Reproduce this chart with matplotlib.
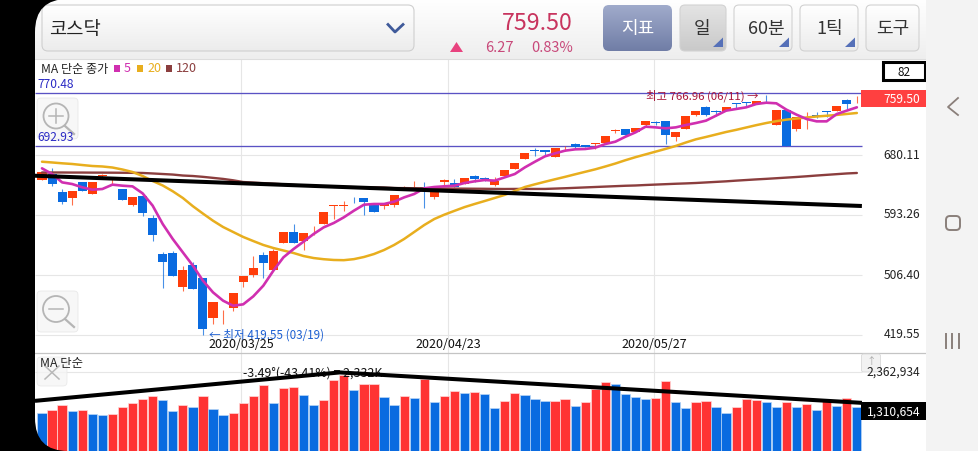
import numpy as np
import matplotlib
matplotlib.use("Agg")
import matplotlib.pyplot as plt
from matplotlib.patches import FancyBboxPatch, Rectangle, Circle, PathPatch, Polygon
from matplotlib.path import Path

plt.rcParams['font.family'] = ['Noto Sans CJK KR', 'DejaVu Sans']

# ---------- data ----------
opens = [644.4,652.6,626.1,618.3,641.5,624.1,649.7,642.7,630.9,607.7,
         621.2,588.9,536.3,538.3,488.6,520.9,501.6,444.2,443.7,458.2,
         496.8,506.9,535.8,513.7,552.3,568.7,556.1,572.5,579.7,606.3,
         606.3,616.9,617.9,609.2,605.8,607.8,632.8,636.2,633.8,619.8,
         640.5,639.6,638.1,649.7,646.4,637.1,650.2,659.8,674.8,686.9,
         687.8,677.2,688.3,695.5,694.6,696.0,698.0,714.8,717.7,712.9,
         724.0,727.9,728.8,706.6,717.7,738.5,749.6,743.3,743.8,754.9,
         756.3,754.4,760.2,723.5,745.7,717.7,734.1,737.5,743.3,743.3,
         759.7,759.0]
closes = [655.0,638.1,611.6,627.5,627.5,641.5,650.7,643.2,615.4,619.8,
          596.2,564.3,524.8,505.5,514.1,486.2,428.3,467.8,444.7,480.4,
          505.5,516.6,523.3,541.6,568.7,552.3,567.2,573.5,597.1,607.3,
          607.3,615.9,611.6,597.1,610.6,622.7,633.8,637.2,632.8,634.3,
          643.9,633.3,646.3,644.9,645.4,643.0,658.4,668.5,682.5,685.9,
          684.9,690.7,689.3,691.7,692.2,697.0,708.1,715.8,709.0,719.7,
          729.3,726.9,709.5,713.4,736.1,743.3,738.5,742.3,749.6,753.9,
          755.3,758.2,759.2,745.7,693.1,734.6,735.1,736.5,742.3,751.5,
          753.9,759.5]
highs = [656,660.8,630.9,627.5,641.5,641.5,652,647.8,630.9,619.8,
         621.2,593.3,540.2,541.6,519.0,524.8,501.6,467.8,456.3,480.4,
         505.5,533.4,539.2,544.0,568.7,579.8,567.2,577.8,597.1,607.3,
         614.0,618.8,617.9,609.2,610.6,622.7,634.8,643.0,640.5,634.3,
         645.4,645.4,646.3,651.2,648.3,647.8,658.4,668.5,682.5,690.2,
         687.8,690.7,692.7,697.0,694.6,697.5,708.1,717.7,717.7,719.7,
         729.3,729.8,728.8,713.4,736.1,743.3,750.5,745.7,749.6,755.4,
         757.3,758.2,766.96,745.7,745.7,734.6,742.8,741.9,744.3,751.5,
         761.1,765]
lows = [644,635.7,609.2,607.7,627.5,624.1,648,638.1,615.4,605.8,
        592.3,556.1,487.1,505.5,483.8,486.2,419.55,435.5,435.5,454.8,
        489.5,503.0,502.1,513.7,552.3,552.3,543.1,564.3,579.7,587.5,
        599.5,610.6,593.3,597.1,602.0,604.4,629.9,633.3,602.9,616.4,
        634.8,633.3,638.1,641.5,642.5,635.7,650.2,659.8,674.8,678.2,
        679.1,677.2,685.9,690.7,692.2,688.8,698.0,711.5,709.0,712.9,
        720.1,723.5,696.0,700.8,717.7,736.1,736.1,737.0,743.8,747.7,
        749.1,754.4,754.9,723.5,693.1,715.3,717.7,733.2,734.6,743.3,
        746.7,755.4]
ma5 = [660.8,652.6,640.5,638.1,633.3,629.9,630.9,637.2,635.7,634.7,
       624.6,606.8,580.2,558.5,539.2,520.0,498.2,481.3,469.3,462.0,
       464.0,475.5,491.0,512.7,532.0,544.0,554.7,565.8,575.4,581.7,
       589.9,599.5,608.2,609.2,609.2,612.6,618.8,623.7,631.9,633.8,
       634.8,635.7,639.6,642.0,643.9,643.0,647.8,652.6,662.2,670.4,
       678.2,682.5,686.4,688.3,688.8,690.7,696.0,699.4,706.6,712.9,
       721.1,720.1,718.7,720.1,723.5,726.4,729.8,737.0,744.3,746.7,
       749.1,753.9,755.8,754.9,745.7,738.5,732.2,728.8,728.8,739.4,
       744.3,749.1]
ma20 = [670.4,669.3,668.1,667.1,665.6,664.2,663.5,662.0,659.1,655.5,
        649.7,642.5,636.0,627.6,617.9,606.0,595.3,585.0,575.9,568.7,
        561.5,555.6,549.9,545.5,541.9,538.3,533.9,531.0,529.3,528.2,
        527.9,529.4,532.5,536.8,542.6,549.9,558.6,568.7,578.8,587.5,
        593.8,599.3,604.7,609.2,613.5,617.9,622.4,628.0,633.8,637.7,
        641.4,645.0,648.5,652.2,655.8,659.4,663.5,667.8,672.6,677.0,
        681.0,685.0,689.0,693.2,698.2,702.8,706.2,709.8,713.4,716.5,
        719.9,723.3,726.4,729.1,731.3,732.9,734.4,735.8,736.9,738.1,
        739.5,740.9]
ma120 = [654.8,654.8,654.8,654.7,654.7,654.6,654.6,654.5,654.4,654.3,
         654.1,653.4,652.6,651.8,650.4,649.7,648.5,647.0,645.5,643.5,
         641.0,640.2,639.4,638.6,637.7,636.7,636.0,635.3,634.6,634.0,
         633.8,633.6,633.4,633.2,633.0,632.3,632.2,632.0,631.9,631.8,
         631.6,631.5,631.4,631.3,631.2,631.0,630.9,631.0,631.0,631.0,
         631.0,631.5,632.0,632.6,633.2,633.8,634.4,635.0,635.6,636.0,
         636.7,637.3,637.9,638.5,639.0,639.6,640.4,641.2,642.0,643.0,
         643.9,644.8,645.6,646.5,647.4,648.3,649.3,650.4,651.4,652.4,
         653.4,654.1]
volumes = [1137,1227,1386,1187,1236,1097,1077,1107,1316,1426,1565,1645,1525,1197,1376,1316,1645,1246,1087,1147,
           1446,1655,1984,1436,1875,1904,1685,1376,1525,2114,2283,1815,2004,2014,1605,1366,1645,1575,2154,1466,1655,
           1785,1725,1775,1695,1276,1506,1745,1685,1546,1486,1506,1565,1356,1466,1855,2074,2004,1695,1605,1555,1575,
           2104,1466,1276,1466,1486,1306,1127,1326,1555,1525,1456,1326,1476,1326,1416,1236,1525,1356,1575,1311]
volume_side = "brrbrbbrrrrrbbrbrbbrrrrbrrbbrrrbrrbbrbrbr" + "rbrbbrrbbbrrbrrrbbbbrrbbrrbbrrrbbrbrbrbrb"
price_ticks = [680.11, 593.26, 506.40, 419.55]
price_tick_labels = ["680.11", "593.26", "506.40", "419.55"]
hlines_levels = [770.48, 692.93]
date_labels = ["2020/03/25", "2020/04/23", "2020/05/27"]
date_positions = [19.8, 40.35, 60.85]
trend_price_x = [-0.7, 81.5]
trend_price_y = [650.1, 606.3]
trend_vol_x = [-0.7, 29.6, 81.5]
trend_vol_y = [1500000, 2350000, 1440000]

W, H = 979, 452
PX = 42.0
STEP = 10.06
fig = plt.figure(figsize=(W/100, H/100), dpi=100, facecolor='white')

def axes_px(x0, y0, x1, y1, z):
    a = fig.add_axes([x0/W, 1-y1/H, (x1-x0)/W, (y1-y0)/H], zorder=z)
    return a

xl = ((35-PX)/STEP, (926-PX)/STEP)
UP, DOWN = '#FF3D0A', '#0A6BE0'
VR, VB = '#FF3333', '#0A6BE0'
n = len(opens)
idx = np.arange(n)

# ---------- price panel ----------
ax = axes_px(35, 60, 926, 354, 2)
ax.set_xlim(*xl)
ax.set_ylim(680.11-(354-156)/0.691, 680.11+(156-60)/0.691)
ax.axis('off')
line_end = (862-PX)/STEP
ax.hlines(price_ticks, xl[0], line_end, color='#e6e6e6', lw=0.8, zorder=1)
ax.vlines(date_positions, ax.get_ylim()[0], ax.get_ylim()[1], color='#e6e6e6', lw=0.8, zorder=1)
ax.hlines(hlines_levels, xl[0], line_end, color='#5a52c4', lw=0.95, zorder=1.5)
for i in idx:
    col = UP if closes[i] >= opens[i] else DOWN
    ax.vlines(i, lows[i], highs[i], color=col, lw=0.8, alpha=0.75, zorder=2)
    ax.bar(i, abs(closes[i]-opens[i]), bottom=min(opens[i], closes[i]), width=0.9, color=col, lw=0, zorder=2.2)
ax.plot(idx, ma120, color='#8B3E3E', lw=1.7, zorder=3, solid_capstyle='round')
ax.plot(idx, ma20, color='#E8AE1E', lw=1.8, zorder=3.1, solid_capstyle='round')
ax.plot(idx, ma5, color='#D02FB0', lw=1.9, zorder=3.2, solid_capstyle='round')
ax.plot(trend_price_x, trend_price_y, color='black', lw=2.9, zorder=4, solid_capstyle='butt')

# ---------- volume panel ----------
av = axes_px(35, 354, 926, 452, 2)
av.set_xlim(*xl)
av.set_ylim(0, 2362934*98/79)
av.axis('off')
av.hlines([2362934], xl[0], line_end, color='#e6e6e6', lw=0.8, zorder=1)
av.vlines(date_positions, 0, av.get_ylim()[1], color='#e6e6e6', lw=0.8, zorder=1)
for i in idx:
    av.bar(i, volumes[i]*1000, width=0.92, color=VR if volume_side[i] == 'r' else VB,
           edgecolor='#ffd9d9' if volume_side[i] == 'r' else '#b9d6f6', lw=0.5, zorder=2)
av.text(date_positions[0]+0.2, 2362934, "-3.49°(-43.41%) = 2,332K", fontsize=8.9, ha='left', va='center',
        color='#111111', zorder=3)
av.plot(trend_vol_x, trend_vol_y, color='black', lw=2.9, zorder=4, solid_joinstyle='miter', solid_capstyle='butt')

# ---------- screen chrome in pixel coordinates ----------
ui = axes_px(0, 0, W, H, 5)
ui.set_xlim(0, W)
ui.set_ylim(H, 0)
ui.axis('off')
ui.patch.set_alpha(0)

def grad(x0, y0, x1, y1, top, bottom, ec=None, r=4):
    box = FancyBboxPatch((x0+r, y0+r), x1-x0-2*r, y1-y0-2*r, boxstyle=f"round,pad={r},rounding_size={r}",
                         fc='none', ec=ec if ec else 'none', lw=0.8, zorder=3)
    ui.add_patch(box)
    t = np.array(matplotlib.colors.to_rgb(top))
    b = np.array(matplotlib.colors.to_rgb(bottom))
    g = t[None, None, :]*(1-np.linspace(0, 1, 64)[:, None, None]) + b[None, None, :]*np.linspace(0, 1, 64)[:, None, None]
    im = ui.imshow(g, extent=(x0, x1, y1, y0), aspect='auto', zorder=2, interpolation='bilinear')
    im.set_clip_path(box)

# header
grad(35, 0, 926, 60, '#ffffff', '#eeeeee', r=0.01)
ui.plot([35, 926], [59.5, 59.5], color='#dddddd', lw=0.8, zorder=3)
grad(42, 6, 414, 52, '#ffffff', '#ececec', ec='#cfcfcf', r=6)
ui.text(49, 29, "코스닥", fontsize=13.5, va='center', color='#222222', zorder=5)
ui.plot([388, 395, 403], [25.5, 33, 25.5], color='#3f5a9a', lw=2, zorder=5)
ui.add_patch(Polygon([[450, 53], [463, 53], [456.5, 43]], fc='#e8437f', ec='none', zorder=5))
ui.text(573, 23, "759.50", fontsize=16.7, ha='right', va='center', color='#c8345e', zorder=5)
ui.text(514, 48, "6.27", fontsize=10.5, ha='right', va='center', color='#c8497a', zorder=5)
ui.text(573, 48, "0.83%", fontsize=10.5, ha='right', va='center', color='#c8497a', zorder=5)
grad(603, 6, 672, 52, '#a0abcb', '#707da6', r=6)
ui.text(637.5, 29, "지표", fontsize=13, ha='center', va='center', color='white', zorder=5)
buttons = [(680, 726, "일", 702, '#e4e4e4', '#c9c9c9'), (734, 792, "60분", 766, '#ffffff', '#ececec'),
           (800, 858, "1틱", 830, '#ffffff', '#ececec'), (866, 919, "도구", 892.5, '#ffffff', '#ececec')]
for x0, x1, s, xc, c0, c1 in buttons:
    grad(x0, 6, x1, 52, c0, c1, ec='#d2d2d2', r=5)
    ui.text(xc, 29, s, fontsize=13, ha='center', va='center', color='#333333', zorder=5)
    if s != "도구":
        ui.add_patch(Polygon([[x1-3, 48], [x1-3, 38.5], [x1-13, 48]], fc='#5570b8', ec='none', zorder=5))

# legend
ui.text(41.5, 69, "MA 단순 종가", fontsize=8.7, va='center', color='#222222')
for x0, c, s in [(114, '#D02FB0', "5"), (137, '#E8AE1E', "20"), (166, '#8B3E3E', "120")]:
    ui.add_patch(Rectangle((x0, 66), 6.5, 6.5, fc=c, ec='none'))
    ui.text(x0+10, 69, s, fontsize=9, va='center', color=c)

# lens buttons
for y0, cy, r_, kind in [(99, 117, 12.5, '+'), (292, 310, 13, '-')]:
    ui.add_patch(FancyBboxPatch((41, y0+4), 33, 33, boxstyle="round,pad=4,rounding_size=4", fc='#f7f7f7', ec='#e6e6e6', lw=0.6, alpha=0.9, zorder=1.5))
    ui.add_patch(Circle((56, cy), r_, fc='none', ec='#b5b5b5', lw=1.3, zorder=3))
    ui.plot([65, 74], [cy+10, cy+18], color='#b5b5b5', lw=1.6, zorder=3)
    ui.plot([49, 63], [cy, cy], color='#b5b5b5', lw=1.1, zorder=3)
    if kind == '+':
        ui.plot([56, 56], [cy-7, cy+7], color='#b5b5b5', lw=1.1, zorder=3)
ui.text(37.5, 85, "770.48", fontsize=8.6, va='center', color='#2a2ac4', zorder=6)
ui.text(37.5, 138, "692.93", fontsize=8.6, va='center', color='#2a2ac4', zorder=6)

# value annotations
ui.text(646, 96, "최고 766.96 (06/11) →", fontsize=8.2, va='center', color='#a8163a', zorder=6)
ui.text(209, 335.5, "← 최저 419.55 (03/19)", fontsize=8.4, va='center', color='#1c5fd2', zorder=6)
for s, p in zip(date_labels, date_positions):
    ui.text(PX+STEP*p, 345, s, fontsize=9, ha='center', va='center', color='#111111', zorder=6)

# price axis
for s, yp in zip(price_tick_labels, [156, 215, 276, 335]):
    ui.text(920, yp, s, fontsize=8.7, ha='right', va='center', color='#222222', zorder=6)
ui.add_patch(Rectangle((883, 62.5), 42, 18.5, fc='white', ec='black', lw=2.2, zorder=6))
ui.text(904, 72, str(n), fontsize=8.4, ha='center', va='center', color='#111111', zorder=7)
ui.add_patch(Rectangle((861, 91), 65, 17, fc='#FF4040', ec='none', zorder=6))
ui.text(920, 99.5, "759.50", fontsize=8.7, ha='right', va='center', color='white', zorder=7)

# volume labels
ui.plot([35, 926], [354, 354], color='#c4c4c4', lw=0.9, zorder=3)
ui.text(40.5, 364, "MA 단순", fontsize=8.9, va='center', color='#222222', zorder=6)
ui.add_patch(FancyBboxPatch((41, 362), 22, 21, boxstyle="round,pad=4,rounding_size=4", fc='#f5f5f5', ec='#e6e6e6', lw=0.6, alpha=0.8, zorder=1.5))
ui.plot([45, 59], [367, 380], color='#b8b8b8', lw=1.1, zorder=3)
ui.plot([45, 59], [380, 367], color='#b8b8b8', lw=1.1, zorder=3)
ui.add_patch(FancyBboxPatch((863.5, 357), 15, 14, boxstyle="round,pad=2,rounding_size=2", fc='#f2f2f2', ec='#d8d8d8', lw=0.6, zorder=3))
ui.text(871, 361, "↑", fontsize=7, ha='center', va='center', color='#aaaaaa', zorder=4)
ui.text(920, 372, "2,362,934", fontsize=8.7, ha='right', va='center', color='#222222', zorder=6)
ui.add_patch(Rectangle((861, 403), 65, 18, fc='black', ec='none', zorder=6))
ui.text(920, 412, "1,310,654", fontsize=8.7, ha='right', va='center', color='white', zorder=7)

# phone frame: black edge with rounded corners, right navigation strip
ui.add_patch(Rectangle((0, 0), 35, H, fc='black', ec='none', zorder=8))
corner_top = Path([(34, 0), (68, 0), (35, 0), (35, 33), (34, 33), (34, 0)],
                  [Path.MOVETO, Path.LINETO, Path.CURVE3, Path.CURVE3, Path.LINETO, Path.CLOSEPOLY])
corner_bot = Path([(34, H), (68, H), (35, H), (35, H-33), (34, H-33), (34, H)],
                  [Path.MOVETO, Path.LINETO, Path.CURVE3, Path.CURVE3, Path.LINETO, Path.CLOSEPOLY])
ui.add_patch(PathPatch(corner_top, fc='black', ec='none', zorder=8))
ui.add_patch(PathPatch(corner_bot, fc='black', ec='none', zorder=8))
ui.add_patch(Rectangle((926, 0), W-926, H, fc='#f3f3f3', ec='none', zorder=8))
ui.plot([958, 948, 958], [99, 108, 116], color='#8a7f7a', lw=1.3, zorder=9)
ui.add_patch(FancyBboxPatch((949, 220), 8, 8, boxstyle="round,pad=3,rounding_size=4", fc='none', ec='#8a7f7a', lw=1.4, zorder=9))
for xv in [946, 952.5, 959]:
    ui.plot([xv, xv], [335, 349], color='#8a7f7a', lw=1.4, zorder=9)
ui.set_xlim(0, W)
ui.set_ylim(H, 0)

fig.savefig("out.png", dpi=100, facecolor='white')
